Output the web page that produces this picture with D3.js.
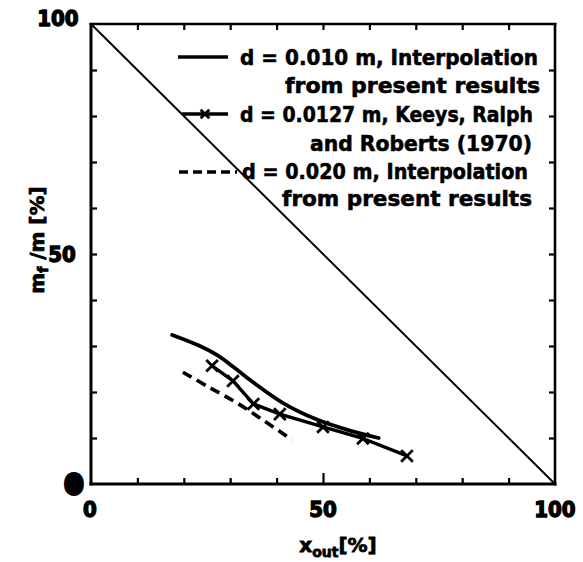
<!DOCTYPE html>
<html>
<head>
<meta charset="utf-8">
<script src="https://cdn.jsdelivr.net/npm/d3@7/dist/d3.min.js"></script>
<style>
  html, body { margin: 0; padding: 0; background: #fff; }
  svg { display: block; }
  text { font-family: "DejaVu Sans", "Liberation Sans", sans-serif; font-weight: bold; fill: #000; }
  text.tick-num { font-family: "DejaVu Sans Condensed", "DejaVu Sans", sans-serif; }
</style>
</head>
<body>
<svg id="chart" width="583" height="562"></svg>
<script>
// Outlet composition x_out [%] against retained fraction m_f/m [%]
const diagonal = [[0, 100], [100, 0]];

// d = 0.010 m, interpolated from present results
const seriesD010 = [[17.5, 32.4], [23, 30.2], [27.2, 28.0], [31, 25.2], [34.3, 22.6], [41.4, 17.6], [48.7, 14.0], [55.8, 11.6], [62.0, 10.0]];

// d = 0.0127 m, Keeys, Ralph and Roberts (1970)
const seriesKeeys = [[26.1, 25.7], [30.6, 22.4], [35.0, 17.4], [40.7, 15.2], [50.0, 12.4], [58.6, 9.9], [68.1, 6.1]];

// d = 0.020 m, interpolated from present results
const seriesD020 = [[19.8, 24.3], [25.5, 21.0], [31.5, 17.6], [37.5, 13.6], [43.3, 9.6]];

const xTickValues = [10, 20, 30, 40, 50, 60, 70, 80, 90];
const yTickValues = [10, 20, 30, 40, 50, 60, 70, 80, 90];
const xTickLabels = ["0", "50", "100"];
const yTickLabels = ["0", "50", "100"];

const legendRows = [
  "d = 0.010 m, Interpolation",
  "from present results",
  "d = 0.0127 m, Keeys, Ralph",
  "and Roberts (1970)",
  "d = 0.020 m, Interpolation",
  "from present results"
];

const svg = d3.select("#chart");
const plotL = 91, plotR = 555, plotT = 24, plotB = 484;

const x = d3.scaleLinear().domain([0, 100]).range([plotL, plotR]);
const y = d3.scaleLinear().domain([0, 100]).range([plotB, plotT]);

// ticks on all four sides, pointing inward
function inwardTicks(axis, transform, longAt50, sign, horizontal) {
  const g = svg.append("g").attr("transform", transform).call(axis);
  g.select(".domain").remove();
  g.selectAll(".tick text").remove();
  g.selectAll(".tick line")
    .attr("stroke", "#000")
    .attr("stroke-width", 2.2)
    .each(function(d) {
      const len = (longAt50 && d === 50) ? 11 : 6;
      const el = d3.select(this);
      if (horizontal) el.attr("x2", sign * len).attr("y2", null);
      else el.attr("y2", sign * len).attr("x2", null);
    });
  return g;
}

inwardTicks(d3.axisBottom(x).tickValues(xTickValues).tickSizeOuter(0),
  `translate(0,${plotB})`, true, -1, false);
inwardTicks(d3.axisTop(x).tickValues(xTickValues).tickSizeOuter(0),
  `translate(0,${plotT})`, false, 1, false);
inwardTicks(d3.axisLeft(y).tickValues(yTickValues).tickSizeOuter(0),
  `translate(${plotL},0)`, false, 1, true);
inwardTicks(d3.axisRight(y).tickValues(yTickValues).tickSizeOuter(0),
  `translate(${plotR},0)`, false, -1, true);

// frame
const frame = svg.append("g").attr("stroke", "#000").attr("fill", "none");
frame.append("line").attr("x1", plotL).attr("x2", plotL).attr("y1", plotT - 1).attr("y2", plotB + 1.5).attr("stroke-width", 3);
frame.append("line").attr("x1", plotL - 1.5).attr("x2", plotR + 1.5).attr("y1", plotB).attr("y2", plotB).attr("stroke-width", 3);
frame.append("line").attr("x1", plotL - 1.5).attr("x2", plotR + 1.5).attr("y1", plotT).attr("y2", plotT).attr("stroke-width", 2.6);
frame.append("line").attr("x1", plotR).attr("x2", plotR).attr("y1", plotT - 1).attr("y2", plotB + 1.5).attr("stroke-width", 2.6);

// diagonal
svg.append("path")
  .datum(diagonal)
  .attr("d", d3.line().x(d => x(d[0])).y(d => y(d[1])))
  .attr("fill", "none").attr("stroke", "#000").attr("stroke-width", 2);

// tick labels
svg.selectAll(".xlab").data(xTickLabels).join("text")
  .attr("class", "xlab tick-num")
  .attr("x", d => x(+d) + (d === "0" ? -1 : 0))
  .attr("y", 517)
  .attr("text-anchor", "middle")
  .attr("font-size", 22)
  .attr("stroke", "#000").attr("stroke-width", 1.3)
  .text(d => d);

svg.selectAll(".ylab").data(yTickLabels).join("text")
  .attr("class", "ylab tick-num")
  .attr("x", d => d === "0" ? 74 : (d === "100" ? 58 : 62))
  .attr("y", d => d === "100" ? 26 : y(+d) + 8)
  .attr("text-anchor", "middle")
  .attr("font-size", 22)
  .attr("stroke", "#000")
  .attr("stroke-width", d => d === "0" ? 8 : 1.3)
  .attr("stroke-linejoin", "round")
  .text(d => d);

// axis titles
const xTitle = svg.append("text")
  .attr("x", 338).attr("y", 552)
  .attr("text-anchor", "middle")
  .attr("font-size", 20)
  .attr("stroke", "#000").attr("stroke-width", 0.8);
xTitle.append("tspan").text("x");
xTitle.append("tspan").attr("font-size", 14).attr("dy", 5).text("out");
xTitle.append("tspan").attr("dy", -5).text("[%]");

const yTitle = svg.append("text")
  .attr("transform", "translate(44,240) rotate(-90)")
  .attr("text-anchor", "middle")
  .attr("font-size", 20)
  .attr("stroke", "#000").attr("stroke-width", 0.8);
yTitle.append("tspan").text("m");
yTitle.append("tspan").attr("font-size", 14).attr("dy", 4).text("f");
yTitle.append("tspan").attr("dy", -4).text(" /m [%]");

// data curves
const smooth = d3.line().x(d => x(d[0])).y(d => y(d[1])).curve(d3.curveCatmullRom.alpha(0.5));
const straight = d3.line().x(d => x(d[0])).y(d => y(d[1]));

svg.append("path").datum(seriesD010).attr("d", smooth)
  .attr("fill", "none").attr("stroke", "#000").attr("stroke-width", 3.8).attr("stroke-linecap", "round");

svg.append("path").datum(seriesD020).attr("d", smooth)
  .attr("fill", "none").attr("stroke", "#000").attr("stroke-width", 3.6)
  .attr("stroke-dasharray", "10,6");

svg.append("path").datum(seriesKeeys).attr("d", straight)
  .attr("fill", "none").attr("stroke", "#000").attr("stroke-width", 3.4).attr("stroke-linejoin", "round");

const cross = d3.symbol().type(d3.symbolTimes).size(90);
svg.selectAll(".mk").data(seriesKeeys).join("path")
  .attr("class", "mk")
  .attr("transform", d => `translate(${x(d[0])},${y(d[1])})`)
  .attr("d", cross)
  .attr("fill", "none").attr("stroke", "#000").attr("stroke-width", 2.8);

// legend
const legendBaselines = [65, 93, 122, 151, 179, 206];
const legendRight = [538, 540, 533, 532, 528, 532];
const legendWidths = [298, 255, 293, 222, 286, 250];

svg.selectAll(".leg").data(legendRows).join("text")
  .attr("class", "leg")
  .attr("x", (d, i) => legendRight[i])
  .attr("y", (d, i) => legendBaselines[i])
  .attr("text-anchor", "end")
  .attr("font-size", 22)
  .attr("stroke", "#000").attr("stroke-width", 0.6)
  .attr("textLength", (d, i) => legendWidths[i])
  .attr("lengthAdjust", "spacingAndGlyphs")
  .text(d => d);

const lg = svg.append("g").attr("stroke", "#000").attr("fill", "none");
lg.append("line").attr("x1", 178).attr("x2", 228).attr("y1", 57).attr("y2", 57).attr("stroke-width", 3.6);
lg.append("line").attr("x1", 182).attr("x2", 228).attr("y1", 114).attr("y2", 114).attr("stroke-width", 3.4);
lg.append("path").attr("transform", "translate(205,114)").attr("d", d3.symbol().type(d3.symbolTimes).size(50)())
  .attr("stroke-width", 2.8);
lg.append("line").attr("x1", 179).attr("x2", 237).attr("y1", 172).attr("y2", 172).attr("stroke-width", 3.4)
  .attr("stroke-dasharray", "9,5");
</script>
</body>
</html>
